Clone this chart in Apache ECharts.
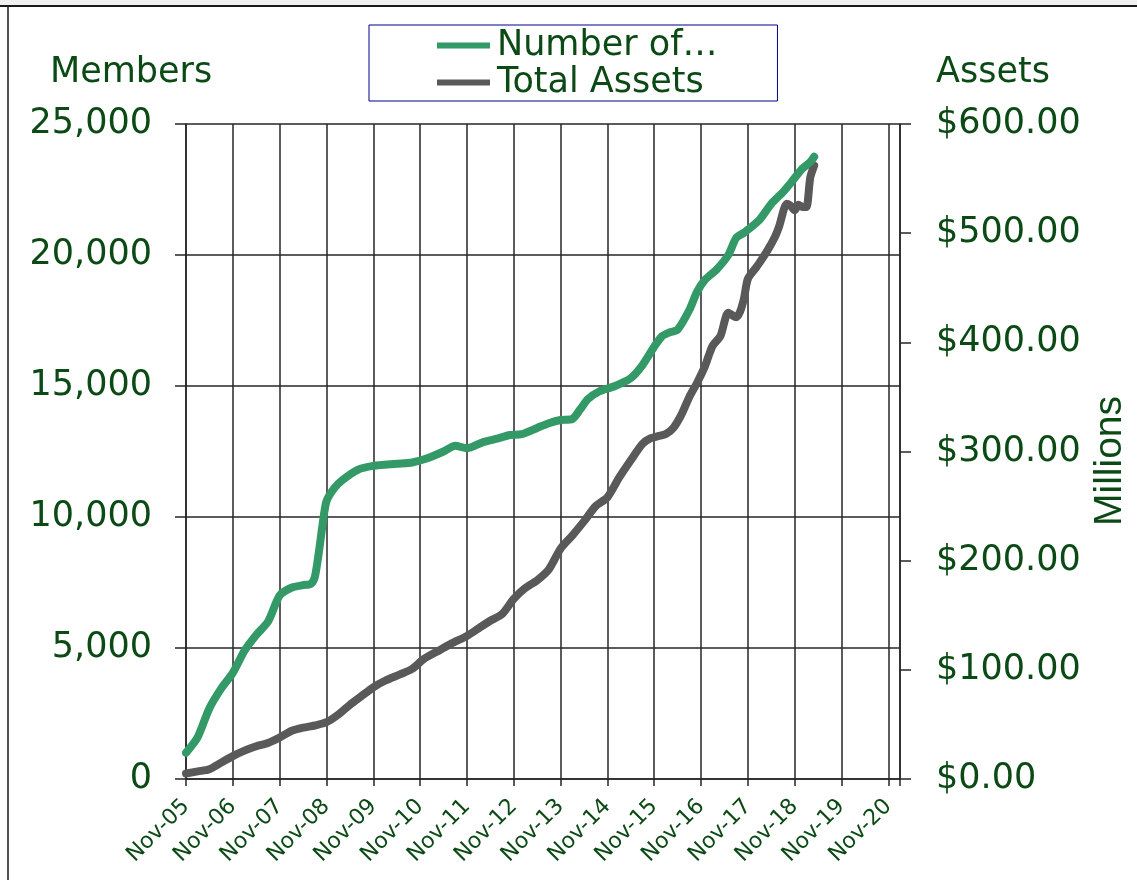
<!DOCTYPE html>
<html>
<head>
<meta charset="utf-8">
<script src="https://cdn.jsdelivr.net/npm/echarts@6/dist/echarts.min.js"></script>
<style>
html, body { margin: 0; padding: 0; background: #fff; }
#chart { width: 1137px; height: 880px; }
</style>
</head>
<body>
<div id="chart"></div>
<script>
// x tick labels, one every 12 months starting Nov-05
var yearLabels = ['Nov-05', 'Nov-06', 'Nov-07', 'Nov-08', 'Nov-09', 'Nov-10', 'Nov-11', 'Nov-12',
	'Nov-13', 'Nov-14', 'Nov-15', 'Nov-16', 'Nov-17', 'Nov-18', 'Nov-19', 'Nov-20'];

// members (left axis), months since Nov-05
var memberMonths = [0, 3, 6, 9, 12, 15, 18, 21, 24, 27, 30, 32, 33, 34, 35, 36, 38, 40, 44, 48, 54, 58,
	62, 66, 69, 72, 76, 80, 83, 86, 90, 93, 96, 99, 101, 103, 106, 110, 114, 117, 120, 122, 124, 126,
	129, 131, 133, 136, 139, 141, 143, 147, 150, 153, 155, 158, 160, 161];
var memberValues = [1000, 1600, 2700, 3450, 4050, 4900, 5500, 6000, 7000, 7300, 7400, 7450, 7700, 8600, 9700, 10600,
	11100, 11400, 11800, 11950, 12030, 12080, 12250, 12500, 12720, 12620, 12850, 13000, 13130, 13160, 13400,
	13580, 13700, 13740, 14100, 14500, 14800, 15000, 15300, 15800, 16500, 16900, 17050, 17150, 17900, 18600,
	19050, 19450, 20000, 20650, 20850, 21350, 21950, 22400, 22750, 23300, 23550, 23750];

// total assets (right axis, $ millions)
var assetMonths = [0, 3, 6, 9, 12, 15, 18, 21, 24, 27, 30, 33, 36, 39, 42, 45, 48, 51, 55, 58, 61, 65,
	68, 72, 75, 78, 81, 84, 87, 90, 93, 96, 99, 102, 105, 108, 111, 114, 117, 119, 121, 123, 125, 127,
	129, 131, 133, 134, 135, 137, 139, 141, 142, 143, 144, 146, 147, 149, 151, 152, 154, 155, 156, 157,
	158, 159, 160, 161];
var assetValues = [5, 7, 9, 15, 21, 26, 30, 33, 38, 44, 47, 49, 52, 59, 68, 76, 84, 90, 96, 101, 110, 118,
	124, 131, 138, 145, 151, 165, 175, 182, 192, 211, 223, 236, 250, 258, 276, 292, 307, 312, 314, 316, 322, 334,
	350, 363, 378, 388, 397, 406, 427, 423, 428, 440, 458, 468, 473, 484, 497, 506, 527, 525, 521, 526,
	524, 524, 551, 562];

var txt = '#0b4a14';
var font = 'DejaVu Sans';
var gridCol = '#262626';

function pairs(xs, ys) {
	return xs.map(function (x, i) { return [x, ys[i]]; });
}

var chart = echarts.init(document.getElementById('chart'));
var option = {
	animation: false,
	backgroundColor: '#fff',
	grid: { left: 186, top: 124, width: 714, height: 655 },
	legend: {
		left: 369,
		top: 25,
		width: 414,
		orient: 'vertical',
		padding: [2, 60, 0, 68],
		itemGap: 0,
		itemWidth: 53,
		itemHeight: 6,
		icon: 'rect',
		borderColor: '#00008b',
		borderWidth: 1,
		textStyle: { fontFamily: font, fontSize: 35, color: txt, lineHeight: 37, padding: [0, 0, 0, 2] }
	},
	xAxis: {
		type: 'value',
		min: 0,
		max: 183,
		interval: 12,
		axisLine: { lineStyle: { color: gridCol, width: 1.5 } },
		axisTick: { length: 7, lineStyle: { color: gridCol, width: 1.5 } },
		splitLine: { show: true, lineStyle: { color: gridCol, width: 1.5 } },
		axisLabel: {
			rotate: 45,
			margin: 24,
			fontFamily: font,
			fontSize: 22,
			color: txt,
			formatter: function (v) { return v % 12 === 0 ? yearLabels[v / 12] : ''; }
		}
	},
	yAxis: [{
		type: 'value',
		min: 0,
		max: 25000,
		interval: 5000,
		axisLine: { show: true, lineStyle: { color: gridCol, width: 1.5 } },
		axisTick: { show: true, length: 11, lineStyle: { color: gridCol, width: 1.5 } },
		splitLine: { show: true, lineStyle: { color: gridCol, width: 1.5 } },
		axisLabel: {
			margin: 34,
			fontFamily: font,
			fontSize: 35,
			color: txt,
			formatter: function (v) { return v.toLocaleString('en-US'); }
		}
	}, {
		type: 'value',
		min: 0,
		max: 600,
		interval: 100,
		position: 'right',
		axisLine: { show: true, lineStyle: { color: gridCol, width: 1.5 } },
		axisTick: { show: true, length: 11, lineStyle: { color: gridCol, width: 1.5 } },
		splitLine: { show: false },
		axisLabel: {
			margin: 36,
			fontFamily: font,
			fontSize: 35,
			color: txt,
			formatter: function (v) { return '$' + v.toFixed(2); }
		}
	}],
	series: [{
		name: 'Number of…',
		type: 'line',
		yAxisIndex: 0,
		symbol: 'none',
		smooth: 0.25,
		data: pairs(memberMonths, memberValues),
		z: 3,
		lineStyle: { color: '#339966', width: 8, cap: 'round', join: 'round' },
		itemStyle: { color: '#339966' }
	}, {
		name: 'Total Assets',
		type: 'line',
		yAxisIndex: 1,
		symbol: 'none',
		smooth: 0.25,
		data: pairs(assetMonths, assetValues),
		z: 2,
		lineStyle: { color: '#595959', width: 8, cap: 'round', join: 'round' },
		itemStyle: { color: '#595959' }
	}],
	graphic: [
		{ type: 'rect', shape: { x: 0, y: 0, width: 1137, height: 5 }, style: { fill: '#f0f0f0' }, silent: true },
		{ type: 'line', shape: { x1: 0, y1: 6, x2: 1137, y2: 6 }, style: { stroke: '#1a1a1a', lineWidth: 2 }, silent: true },
		{ type: 'line', shape: { x1: 8, y1: 6, x2: 8, y2: 880 }, style: { stroke: '#1a1a1a', lineWidth: 1.5 }, silent: true },
		{ type: 'text', x: 50, y: 73, style: { text: 'Members', font: '35px "DejaVu Sans"', fill: txt, verticalAlign: 'middle' } },
		{ type: 'text', x: 936, y: 73, style: { text: 'Assets', font: '35px "DejaVu Sans"', fill: txt, verticalAlign: 'middle' } },
		{ type: 'text', x: 1110, y: 461, rotation: Math.PI / 2,
			style: { text: 'Millions', font: '39px "Liberation Sans"', fill: txt, align: 'center', verticalAlign: 'middle' } }
	]
};
chart.setOption(option);
</script>
</body>
</html>
